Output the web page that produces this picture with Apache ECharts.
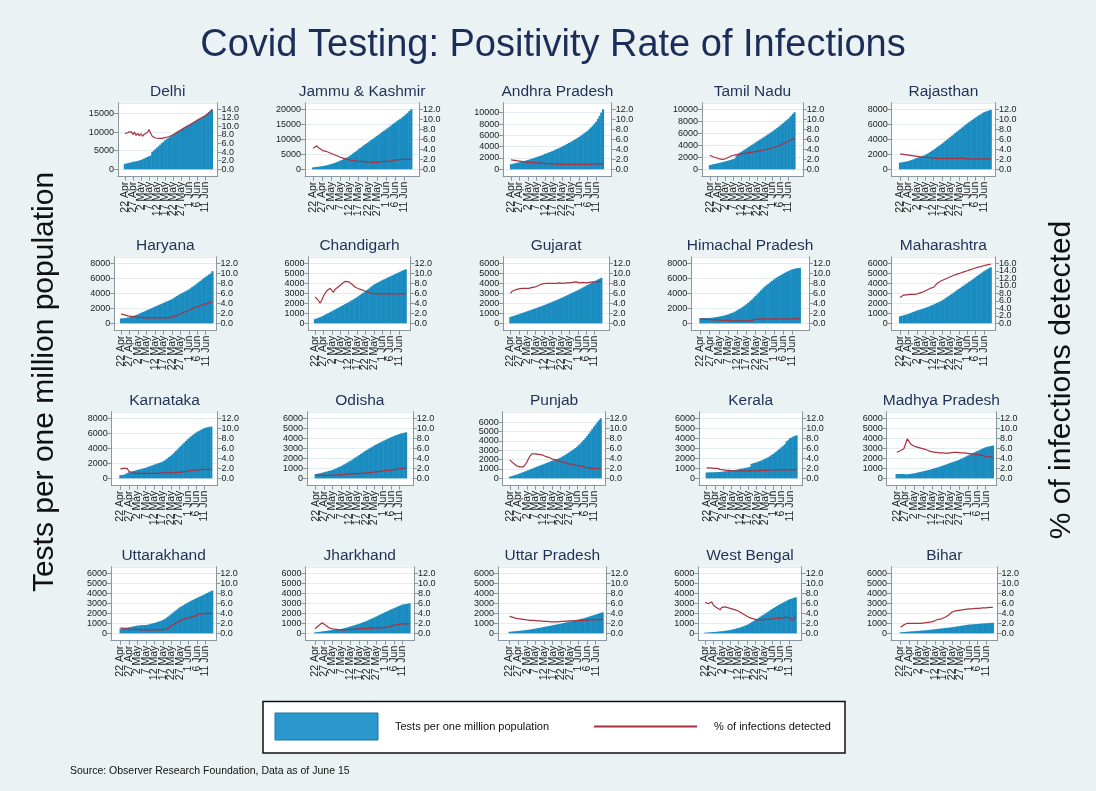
<!DOCTYPE html>
<html><head><meta charset="utf-8">
<script src="https://cdn.jsdelivr.net/npm/echarts@6/dist/echarts.min.js"></script>
<style>html,body{margin:0;padding:0;background:#eaf2f3;}#chart{width:1096px;height:791px;}</style>
</head><body><div id="chart"></div>
<script>
// ---------- categories ----------
const dates = ['22 Apr','23 Apr','24 Apr','25 Apr','26 Apr','27 Apr','28 Apr','29 Apr','30 Apr',
 '1 May','2 May','3 May','4 May','5 May','6 May','7 May','8 May','9 May','10 May','11 May','12 May','13 May','14 May','15 May','16 May',
 '17 May','18 May','19 May','20 May','21 May','22 May','23 May','24 May','25 May','26 May','27 May','28 May','29 May','30 May','31 May',
 '1 Jun','2 Jun','3 Jun','4 Jun','5 Jun','6 Jun','7 Jun','8 Jun','9 Jun','10 Jun','11 Jun','12 Jun','13 Jun','14 Jun','15 Jun'];
const xTickDays = [0,5,10,15,20,25,30,35,40,45,50];
const states = ['Delhi','Jammu & Kashmir','Andhra Pradesh','Tamil Nadu','Rajasthan',
 'Haryana','Chandigarh','Gujarat','Himachal Pradesh','Maharashtra',
 'Karnataka','Odisha','Punjab','Kerala','Madhya Pradesh',
 'Uttarakhand','Jharkhand','Uttar Pradesh','West Bengal','Bihar'];

// ---------- tick labels ----------
const leftTicks15k = [0,5000,10000,15000];
const leftTicks20k = [0,5000,10000,15000,20000];
const leftTicks10k = [0,2000,4000,6000,8000,10000];
const leftTicks8k = [0,2000,4000,6000,8000];
const leftTicks6k = [0,1000,2000,3000,4000,5000,6000];
const rightTicks12 = [0,2,4,6,8,10,12];
const rightTicks14 = [0,2,4,6,8,10,12,14];
const rightTicks16 = [0,2,4,6,8,10,12,14,16];

// ---------- series: tests per one million population / % of infections detected ----------
const delhiTests = [1450,1550,1650,1750,1850, 2000,2050,2150,2250,2350, 2500,2700,2900,3100,3300, 3500,3700,4700,5000,5400, 5800,6200,6600,7000,7400, 7800,8100,8400,8700,9000, 9300,9600,9900,10200,10400, 10700,11000,11300,11500,11800, 12000,12300,12500,12800,13000, 13300,13500,13800,14000,14300, 14600,14900,15300,15700,16100];
const delhiPos = [8.3,8.0,8.6,8.2,8.8, 8.1,8.7,7.9,8.4,7.8, 8.3,7.7,8.2,8.0,8.6, 9.3,8.4,7.7,7.4,7.3, 7.2,7.2,7.3,7.2,7.3, 7.4,7.5,7.6,7.8,7.9, 8.1,8.3,8.5,8.8,9.0, 9.2,9.5,9.7,9.9,10.1, 10.3,10.5,10.8,11.0,11.2, 11.5,11.7,11.9,12.2,12.3, 12.5,12.8,13.1,13.5,13.9];

const jkTests = [650,700,780,860,950, 1050,1150,1280,1420,1600, 1780,1950,2150,2400,2650, 2900,3150,3450,3750,4050, 4400,4850,5300,5750,6200, 6700,7150,7600,8050,8500, 8900,9350,9800,10200,10650, 11100,11550,12000,12450,12900, 13300,13750,14200,14700,15150, 15600,16050,16500,16900,17350, 17800,18350,18900,19500,20100];
const jkPos = [4.2,4.5,4.7,4.3,4.1, 3.8,3.7,3.6,3.4,3.3, 3.1,3.0,2.8,2.7,2.5, 2.4,2.3,2.2,2.1,2.0, 1.9,1.8,1.8,1.7,1.7, 1.6,1.6,1.6,1.5,1.5, 1.5,1.5,1.5,1.4,1.4, 1.4,1.5,1.5,1.5,1.6, 1.6,1.6,1.7,1.7,1.8, 1.9,1.9,1.9,2.0,2.0, 2.0,2.0,2.0,2.0,2.0];

const apTests = [900,960,1030,1100,1180, 1250,1320,1400,1480,1560, 1650,1740,1840,1940,2040, 2150,2250,2350,2470,2580, 2700,2820,2940,3060,3180, 3300,3440,3580,3720,3860, 4000,4160,4320,4480,4640, 4800,4980,5160,5340,5520, 5700,5920,6140,6360,6580, 6800,7100,7400,7700,8050, 8400,8900,9400,10000,10600];
const apPos = [1.9,1.8,1.8,1.7,1.7, 1.6,1.6,1.5,1.5,1.5, 1.4,1.4,1.4,1.3,1.3, 1.3,1.3,1.2,1.2,1.2, 1.2,1.2,1.1,1.1,1.1, 1.1,1.1,1.1,1.0,1.0, 1.0,1.0,1.0,1.0,1.0, 1.0,1.0,1.0,1.0,1.0, 1.0,1.0,1.0,1.0,1.0, 1.0,1.0,1.0,1.1,1.1, 1.1,1.1,1.1,1.1,1.1];

const tnTests = [700,760,820,880,940, 1000,1060,1120,1180,1240, 1300,1380,1460,1540,1620, 1700,1800,2300,2550,2750, 2900,3070,3240,3410,3580, 3750,3920,4090,4260,4430, 4600,4770,4940,5110,5280, 5450,5620,5790,5960,6130, 6300,6500,6700,6900,7100, 7300,7520,7740,7960,8180, 8400,8680,8960,9240,9520];
const tnPos = [2.8,2.6,2.5,2.4,2.3, 2.2,2.1,2.0,2.0,2.0, 2.1,2.2,2.4,2.5,2.7, 2.8,2.9,3.0,3.0,3.1, 3.1,3.1,3.2,3.2,3.3, 3.3,3.4,3.4,3.5,3.5, 3.6,3.6,3.7,3.8,3.8, 3.9,4.0,4.0,4.1,4.2, 4.3,4.4,4.5,4.6,4.7, 4.9,5.0,5.1,5.3,5.4, 5.6,5.7,5.9,6.0,6.2];

const rjTests = [880,920,960,1000,1050, 1100,1170,1250,1330,1410, 1500,1580,1660,1740,1820, 1900,2030,2160,2300,2450, 2600,2760,2920,3080,3240, 3400,3580,3760,3940,4120, 4300,4480,4660,4840,5020, 5200,5380,5560,5740,5920, 6100,6260,6420,6580,6740, 6900,7040,7180,7320,7460, 7600,7680,7760,7840,7920];
const rjPos = [3.1,3.0,3.0,2.9,2.9, 2.8,2.8,2.7,2.7,2.6, 2.6,2.5,2.5,2.5,2.4, 2.4,2.4,2.3,2.3,2.3, 2.3,2.3,2.2,2.2,2.2, 2.2,2.2,2.2,2.2,2.2, 2.2,2.2,2.2,2.2,2.2, 2.2,2.2,2.2,2.2,2.2, 2.1,2.1,2.1,2.1,2.1, 2.1,2.1,2.1,2.1,2.1, 2.1,2.1,2.1,2.1,2.1];

const hrTests = [640,660,690,720,760, 800,870,950,1030,1110, 1200,1300,1400,1500,1600, 1700,1800,1900,2000,2100, 2200,2300,2400,2500,2600, 2700,2800,2900,3000,3100, 3200,3340,3480,3620,3760, 3900,4020,4140,4260,4380, 4500,4660,4820,4980,5140, 5300,5480,5660,5840,6020, 6200,6350,6500,6650,6950];
const hrPos = [1.9,1.8,1.7,1.6,1.5, 1.4,1.4,1.3,1.3,1.2, 1.2,1.2,1.2,1.1,1.1, 1.1,1.1,1.1,1.1,1.1, 1.1,1.1,1.1,1.1,1.1, 1.1,1.1,1.1,1.1,1.2, 1.3,1.4,1.5,1.6,1.7, 1.8,2.0,2.1,2.3,2.4, 2.6,2.7,2.9,3.0,3.2, 3.3,3.4,3.5,3.7,3.8, 3.9,4.0,4.1,4.2,4.3];

const chTests = [420,480,540,600,680, 750,840,930,1020,1110, 1200,1290,1380,1470,1560, 1650,1740,1830,1920,2010, 2100,2200,2300,2400,2500, 2600,2720,2840,2960,3080, 3200,3330,3460,3590,3720, 3850,3940,4030,4120,4210, 4300,4380,4460,4540,4620, 4700,4780,4860,4940,5020, 5100,5180,5260,5330,5400];
const chPos = [5.3,5.1,4.6,4.0,4.6, 5.4,6.0,6.5,6.8,7.0, 6.6,6.2,6.8,7.1,7.3, 7.6,7.9,8.2,8.4,8.4, 8.3,8.0,7.8,7.5,7.2, 7.0,6.9,6.8,6.7,6.6, 6.4,6.3,6.2,6.1,6.0, 6.0,5.9,5.9,5.9,5.9, 5.9,5.9,5.9,5.9,5.9, 5.9,5.9,5.9,5.9,5.9, 5.9,5.9,5.9,5.9,5.9];

const gjTests = [630,680,740,790,850, 900,960,1020,1080,1140, 1200,1260,1320,1380,1440, 1500,1560,1620,1680,1740, 1800,1870,1940,2010,2080, 2150,2220,2290,2360,2430, 2500,2580,2660,2740,2820, 2900,2980,3060,3140,3220, 3300,3390,3480,3570,3660, 3750,3840,3930,4020,4110, 4200,4290,4380,4460,4550];
const gjPos = [6.0,6.4,6.3,6.7,6.6, 6.9,6.8,7.0,6.9,7.0, 7.1,7.0,7.1,7.2,7.2, 7.3,7.4,7.6,7.8,7.9, 8.0,8.0,8.1,8.0,7.9, 8.0,8.1,8.0,8.0,8.1, 8.0,8.0,8.1,8.1,8.2, 8.1,8.1,8.2,8.2,8.3, 8.2,8.1,8.2,8.2,8.1, 8.1,8.2,8.2,8.2,8.3, 8.2,8.3,8.3,8.4,8.4];

const hpTests = [700,700,700,710,710, 720,740,770,800,840, 880,930,980,1040,1110, 1180,1270,1360,1460,1580, 1720,1860,2010,2170,2350, 2530,2730,2940,3160,3400, 3640,3890,4140,4390,4640, 4880,5080,5280,5470,5660, 5840,6000,6160,6310,6460, 6600,6730,6860,6980,7090, 7200,7260,7310,7360,7400];
const hpPos = [0.9,0.9,0.8,0.8,0.8, 0.8,0.7,0.7,0.7,0.7, 0.7,0.6,0.6,0.6,0.6, 0.6,0.6,0.5,0.5,0.5, 0.5,0.5,0.5,0.5,0.5, 0.5,0.5,0.5,0.6,0.8, 0.8,0.8,0.9,0.9,0.9, 0.9,0.9,0.9,0.9,0.9, 0.9,0.9,0.9,0.9,0.9, 0.9,0.9,0.9,0.9,0.9, 0.9,0.9,0.9,1.0,1.0];

const mhTests = [700,740,790,840,880, 930,1000,1070,1140,1200, 1270,1320,1370,1420,1480, 1530,1600,1660,1730,1800, 1870,1950,2030,2110,2190, 2270,2380,2490,2600,2720, 2830,2950,3070,3190,3310, 3430,3540,3660,3770,3890, 4000,4120,4240,4360,4480, 4600,4720,4840,4960,5080, 5200,5300,5400,5500,5600];
const mhPos = [6.9,7.2,7.5,7.7,7.6, 7.6,7.7,7.6,7.7,7.7, 7.8,8.0,8.1,8.3,8.4, 8.5,8.9,9.2,9.3,9.4, 9.6,10.1,10.6,11.0,11.2, 11.4,11.6,11.8,12.0,12.2, 12.4,12.6,12.8,13.0,13.1, 13.3,13.4,13.6,13.7,13.9, 14.0,14.2,14.3,14.5,14.6, 14.8,14.9,15.0,15.1,15.3, 15.4,15.5,15.6,15.7,15.8];

const kaTests = [420,440,460,560,680, 800,860,920,980,1040, 1100,1160,1220,1280,1340, 1400,1480,1560,1640,1720, 1800,1880,1960,2040,2120, 2200,2340,2500,2660,2830, 3000,3200,3420,3640,3870, 4100,4320,4540,4760,4980, 5200,5400,5580,5760,5930, 6100,6230,6350,6470,6590, 6700,6760,6810,6860,6900];
const kaPos = [1.9,1.9,2.0,2.1,2.0, 1.4,1.2,1.1,1.1,1.0, 1.0,1.0,1.0,1.0,1.0, 1.0,1.0,1.0,1.0,1.0, 1.0,1.0,1.0,1.0,1.1, 1.1,1.1,1.1,1.1,1.1, 1.1,1.1,1.2,1.2,1.2, 1.2,1.3,1.3,1.4,1.4, 1.5,1.5,1.6,1.6,1.7, 1.7,1.7,1.7,1.8,1.8, 1.8,1.8,1.8,1.8,1.8];

const odTests = [420,450,480,520,560, 600,640,690,740,780, 830,900,970,1050,1120, 1200,1290,1380,1480,1570, 1670,1770,1880,1990,2090, 2200,2310,2430,2540,2660, 2770,2870,2970,3070,3170, 3270,3360,3440,3530,3610, 3700,3780,3860,3940,4020, 4100,4170,4230,4300,4360, 4430,4480,4520,4560,4600];
const odPos = [0.6,0.6,0.6,0.6,0.6, 0.6,0.6,0.6,0.6,0.6, 0.6,0.6,0.7,0.7,0.7, 0.7,0.7,0.8,0.8,0.8, 0.9,0.9,0.9,0.9,0.9, 0.9,1.0,1.0,1.0,1.0, 1.1,1.1,1.1,1.2,1.2, 1.2,1.3,1.3,1.4,1.4, 1.5,1.5,1.6,1.6,1.6, 1.7,1.7,1.8,1.8,1.8, 1.9,1.9,2.0,2.0,2.1];

const pbTests = [180,230,280,340,390, 450,520,590,660,730, 800,870,940,1010,1090, 1160,1230,1300,1370,1430, 1500,1570,1640,1720,1790, 1860,1930,2000,2060,2130, 2200,2300,2400,2510,2620, 2740,2860,2980,3100,3230, 3370,3540,3720,3900,4090, 4300,4520,4750,5000,5250, 5500,5730,5960,6180,6400];
const pbPos = [3.7,3.4,3.0,2.7,2.5, 2.4,2.3,2.2,2.3,2.6, 3.2,3.9,4.5,4.9,5.0, 4.9,4.8,4.8,4.7,4.7, 4.5,4.4,4.3,4.2,4.1, 3.9,3.8,3.7,3.6,3.5, 3.3,3.3,3.2,3.1,3.0, 2.9,2.9,2.8,2.7,2.6, 2.5,2.5,2.4,2.4,2.3, 2.2,2.2,2.1,2.1,2.0, 2.0,2.0,1.9,1.9,1.9];

const klTests = [580,585,590,595,600, 605,615,625,640,655, 670,690,710,730,750, 770,800,830,860,895, 930,960,990,1030,1065, 1100,1150,1450,1500,1550, 1600,1660,1720,1790,1860, 1930,2020,2110,2200,2320, 2430,2560,2690,2820,2950, 3100,3250,3400,3700,3800, 4000,4080,4160,4240,4300];
const klPos = [2.1,2.1,2.1,2.0,2.0, 2.0,2.0,1.9,1.8,1.8, 1.7,1.7,1.6,1.6,1.6, 1.5,1.5,1.5,1.5,1.5, 1.5,1.5,1.5,1.5,1.5, 1.5,1.5,1.5,1.5,1.5, 1.5,1.5,1.6,1.6,1.6, 1.6,1.6,1.6,1.7,1.7, 1.7,1.7,1.7,1.7,1.7, 1.7,1.7,1.7,1.7,1.7, 1.7,1.7,1.7,1.7,1.7];

const mpTests = [420,420,430,430,420, 390,400,420,440,470, 500,540,580,620,660, 700,740,790,830,880, 930,980,1040,1090,1150, 1200,1270,1330,1400,1460, 1530,1590,1650,1710,1770, 1830,1920,2000,2090,2180, 2270,2360,2440,2530,2610, 2700,2780,2860,2940,3020, 3100,3150,3190,3230,3270];
const mpPos = [5.2,5.4,5.5,5.7,5.9, 6.2,7.9,7.6,6.8,6.5, 6.4,6.3,6.2,6.1,6.0, 5.9,5.8,5.6,5.5,5.4, 5.3,5.3,5.2,5.2,5.1, 5.1,5.1,5.1,5.0,5.1, 5.1,5.1,5.2,5.2,5.2, 5.2,5.1,5.1,5.1,5.0, 5.0,5.0,4.9,4.9,4.8, 4.7,4.7,4.6,4.6,4.5, 4.4,4.4,4.3,4.3,4.2];

const ukTests = [480,500,520,550,570, 600,630,670,700,740, 770,780,790,810,820, 830,860,900,950,990, 1030,1080,1140,1200,1260, 1330,1430,1540,1660,1790, 1930,2070,2200,2340,2470, 2600,2700,2800,2900,3000, 3100,3190,3280,3360,3450, 3530,3610,3690,3770,3850, 3930,4020,4100,4190,4270];
const ukPos = [1.1,1.0,1.0,0.9,0.9, 0.9,0.8,0.8,0.8,0.8, 0.8,0.8,0.7,0.7,0.7, 0.7,0.7,0.7,0.7,0.7, 0.7,0.7,0.7,0.7,0.7, 0.7,0.8,0.9,1.0,1.2, 1.5,1.7,1.9,2.1,2.3, 2.5,2.7,2.8,2.9,3.0, 3.1,3.2,3.3,3.4,3.5, 3.7,3.8,3.8,3.9,3.9, 4.0,4.0,4.0,4.0,4.0];

const jhTests = [90,110,130,160,180, 200,230,260,280,300, 330,350,370,390,410, 430,480,520,570,620, 670,720,770,830,880, 930,1000,1070,1130,1200, 1270,1350,1430,1510,1590, 1670,1760,1840,1930,2010, 2100,2180,2260,2340,2420, 2500,2570,2650,2720,2800, 2870,2900,2930,2960,3000];
const jhPos = [0.9,1.2,1.5,1.8,2.1, 2.2,1.6,1.3,1.1,1.0, 0.9,0.8,0.8,0.7,0.7, 0.7,0.7,0.7,0.7,0.8, 0.8,0.8,0.8,0.9,0.9, 0.9,0.9,0.9,1.0,1.0, 1.0,1.0,1.0,1.0,1.1, 1.1,1.1,1.1,1.1,1.2, 1.2,1.2,1.3,1.4,1.5, 1.6,1.7,1.7,1.8,1.8, 1.9,1.9,1.9,1.9,1.9];

const upTests = [150,165,180,200,215, 230,250,270,290,310, 330,355,380,410,440, 470,500,530,565,600, 630,665,700,730,765, 800,835,870,900,935, 970,1010,1050,1090,1130, 1170,1210,1250,1290,1330, 1370,1410,1460,1500,1550, 1600,1650,1710,1760,1820, 1870,1930,1990,2040,2100];
const upPos = [3.4,3.3,3.2,3.1,3.0, 2.9,2.9,2.8,2.8,2.7, 2.7,2.7,2.6,2.6,2.6, 2.5,2.5,2.5,2.5,2.4, 2.4,2.4,2.4,2.4,2.3, 2.3,2.3,2.3,2.3,2.4, 2.4,2.4,2.4,2.4,2.5, 2.5,2.5,2.5,2.5,2.6, 2.6,2.6,2.6,2.6,2.6, 2.7,2.7,2.7,2.7,2.7, 2.7,2.8,2.8,2.8,2.8];

const wbTests = [60,70,85,100,115, 130,140,155,170,185, 200,220,250,270,300, 330,360,400,440,490, 530,580,640,700,760, 830,920,1020,1120,1230, 1330,1440,1550,1660,1770, 1870,1980,2090,2200,2320, 2430,2530,2630,2730,2830, 2930,3020,3110,3200,3280, 3370,3430,3490,3550,3600];
const wbPos = [6.2,6.0,5.9,6.1,6.3, 5.6,5.4,5.1,4.9,4.7, 5.2,5.5,5.3,5.2,5.1, 5.0,4.9,4.8,4.7,4.6, 4.4,4.2,4.0,3.8,3.6, 3.3,3.2,3.1,3.0,2.9, 2.8,2.8,2.7,2.7,2.7, 2.7,2.8,2.8,2.8,2.9, 2.9,2.9,3.0,3.0,3.0, 3.1,3.1,3.1,3.2,3.2, 3.2,3.2,2.6,3.0,3.3];

const brTests = [100,110,125,140,155, 170,180,190,205,220, 230,245,260,275,290, 300,320,340,360,380, 400,420,440,460,480, 500,520,540,560,580, 600,625,650,680,705, 730,760,790,815,845, 870,880,895,905,915, 930,945,960,975,985, 1000,1010,1025,1040,1055];
const brPos = [1.2,1.5,1.7,1.9,2.0, 2.0,2.0,2.0,2.0,2.0, 2.0,2.0,2.0,2.1,2.1, 2.2,2.2,2.3,2.3,2.4, 2.5,2.6,2.8,2.9,2.9, 3.0,3.2,3.4,3.6,3.9, 4.2,4.4,4.5,4.6,4.6, 4.7,4.7,4.7,4.8,4.8, 4.9,4.9,4.9,4.9,5.0, 5.0,5.0,5.0,5.1,5.1, 5.1,5.1,5.2,5.2,5.2];

const testsList = [delhiTests,jkTests,apTests,tnTests,rjTests, hrTests,chTests,gjTests,hpTests,mhTests, kaTests,odTests,pbTests,klTests,mpTests, ukTests,jhTests,upTests,wbTests,brTests];
const posList = [delhiPos,jkPos,apPos,tnPos,rjPos, hrPos,chPos,gjPos,hpPos,mhPos, kaPos,odPos,pbPos,klPos,mpPos, ukPos,jhPos,upPos,wbPos,brPos];
const leftTickList = [leftTicks15k,leftTicks20k,leftTicks10k,leftTicks10k,leftTicks8k,
 leftTicks8k,leftTicks6k,leftTicks6k,leftTicks8k,leftTicks6k,
 leftTicks8k,leftTicks6k,leftTicks6k,leftTicks6k,leftTicks6k,
 leftTicks6k,leftTicks6k,leftTicks6k,leftTicks6k,leftTicks6k];
const rightTickList = [rightTicks14,rightTicks12,rightTicks12,rightTicks12,rightTicks12,
 rightTicks12,rightTicks12,rightTicks12,rightTicks12,rightTicks16,
 rightTicks12,rightTicks12,rightTicks12,rightTicks12,rightTicks12,
 rightTicks12,rightTicks12,rightTicks12,rightTicks12,rightTicks12];

// ---------- layout (pixels): plot box left/right, x of first tick (22 Apr) and of 11 Jun tick ----------
const ROW_TOP = [102.7, 256.7, 411.7, 566.7];
const BOX_H = 74;
const panelX = [
 [117.9,217.5,124.8,205.6],[305,419,313.2,404],[503.2,611.7,511,596.2],[702,802.8,709.8,788.3],[891.7,995,900,984],
 [114.2,216.5,121,205.7],[308.5,410.5,315,399],[503.2,609,510.4,594.6],[691.2,809,700.5,792.4],[891.7,995,900,984],
 [111.7,217.5,120.4,204.6],[306.9,412.8,315.7,399.4],[502.7,605.5,510,594],[699,802.3,706.7,789.9],[886.7,996,896.7,985.7],
 [111,216.2,120.6,205.4],[305.5,414,315.1,402.5],[498,606.6,509.6,595.7],[698.3,801.7,705,789],[891,997.5,900.6,986]
];

const FONT = '"Liberation Sans", Arial, sans-serif';
const BAR_COLOR = '#1a8cc0';
const LINE_COLOR = '#a8323e';
const AXIS_COLOR = '#8a989e';
const TITLE_COLOR = '#1f3157';
const NAME_BAR = 'Tests per one million population';
const NAME_LINE = '% of infections detected';
const TOP_FR = 0.11, BOT_FR = 0.1233;
const EPS = 1e-3;

// The library drops the label/tick next to a forced min/max label when they overlap;
// padding each tick list with blank end entries (hidden by showMin/MaxLabel:false) keeps all real ticks.
function padded(vals, lo, hi) {
  const span = hi - lo;
  return [lo + span * EPS].concat(vals, [hi - span * EPS]);
}

const grids = [], xAxes = [], yAxes = [], series = [], graphics = [];
states.forEach((st, i) => {
  const row = Math.floor(i / 5);
  const [L, R, t0, t50] = panelX[i];
  const W = R - L;
  const ppd = (t50 - t0) / 50;
  const xmin = -(t0 - L) / ppd;
  const xmax = 50 + (R - t50) / ppd;
  const tests = testsList[i], pos = posList[i];
  const lt = leftTickList[i], rt = rightTickList[i];
  const TL = Math.max(lt[lt.length - 1], Math.max.apply(null, tests));
  const TR = Math.max(rt[rt.length - 1], Math.max.apply(null, pos));
  const lMin = -BOT_FR * TL, lMax = (1 + TOP_FR) * TL;
  const rMin = -BOT_FR * TR, rMax = (1 + TOP_FR) * TR;
  const xVals = padded(xTickDays, xmin, xmax);
  const lVals = padded(lt, lMin, lMax);
  const rVals = padded(rt, rMin, rMax);
  grids.push({left: L, top: ROW_TOP[row], width: W, height: BOX_H, show: true,
    backgroundColor: '#ffffff', borderWidth: 0, containLabel: false});
  xAxes.push({type: 'value', gridIndex: i, min: xmin, max: xmax,
    axisLine: {show: true, onZero: false, lineStyle: {color: AXIS_COLOR, width: 1}},
    axisTick: {show: true, length: 4, customValues: xVals, lineStyle: {color: AXIS_COLOR}},
    axisLabel: {show: true, customValues: xVals, rotate: 90, fontSize: 10.5, margin: 5,
      color: '#222', fontFamily: FONT, hideOverlap: false, showMinLabel: false, showMaxLabel: false,
      formatter: v => (xTickDays.indexOf(v) >= 0 ? dates[v] : '')},
    splitLine: {show: false}});
  yAxes.push({type: 'value', gridIndex: i, position: 'left', min: lMin, max: lMax,
    axisLine: {show: true, onZero: false, lineStyle: {color: AXIS_COLOR, width: 1}},
    axisTick: {show: true, length: 4, customValues: lVals, lineStyle: {color: AXIS_COLOR}},
    axisLabel: {show: true, customValues: lVals, fontSize: 9, margin: 4, color: '#222', fontFamily: FONT,
      hideOverlap: false, showMinLabel: false, showMaxLabel: false,
      formatter: v => (lt.indexOf(v) >= 0 ? String(v) : '')},
    splitLine: {show: true, lineStyle: {color: '#e3ecef', width: 1}}});
  yAxes.push({type: 'value', gridIndex: i, position: 'right', min: rMin, max: rMax,
    axisLine: {show: true, onZero: false, lineStyle: {color: AXIS_COLOR, width: 1}},
    axisTick: {show: true, length: 4, customValues: rVals, lineStyle: {color: AXIS_COLOR}},
    axisLabel: {show: true, customValues: rVals, fontSize: 9, margin: 4, color: '#222', fontFamily: FONT,
      hideOverlap: false, showMinLabel: false, showMaxLabel: false,
      formatter: v => (rt.indexOf(v) >= 0 ? v.toFixed(1) : '')},
    splitLine: {show: false}});
  series.push({type: 'bar', name: NAME_BAR, xAxisIndex: i, yAxisIndex: 2 * i,
    data: tests.map((v, k) => [k, v]), barWidth: ppd * 1.3, barGap: '-100%',
    itemStyle: {color: BAR_COLOR}, emphasis: {disabled: true}, animation: false, z: 2});
  series.push({type: 'line', name: NAME_LINE, xAxisIndex: i, yAxisIndex: 2 * i + 1,
    data: pos.map((v, k) => [k, v]), symbol: 'none', showSymbol: false,
    lineStyle: {color: LINE_COLOR, width: 1.2}, itemStyle: {color: LINE_COLOR},
    emphasis: {disabled: true}, animation: false, z: 3});
  graphics.push({type: 'text', x: L + W / 2, y: ROW_TOP[row] - 11, z: 10,
    style: {text: st, fill: TITLE_COLOR, font: '15.5px ' + FONT, align: 'center', verticalAlign: 'middle'}});
});

// legend box, titles, source
graphics.push({type: 'rect', shape: {x: 263, y: 701.5, width: 582, height: 51.5}, z: 0,
  style: {fill: '#ffffff', stroke: '#111111', lineWidth: 1.5}});
graphics.push({type: 'text', x: 553, y: 46, z: 10,
  style: {text: 'Covid Testing: Positivity Rate of Infections', fill: '#1c2d58', font: '38px ' + FONT,
    align: 'center', verticalAlign: 'middle'}});
graphics.push({type: 'text', x: 45, y: 382, rotation: Math.PI / 2, z: 10,
  style: {text: 'Tests per one million population', fill: '#111', font: '30px ' + FONT,
    align: 'center', verticalAlign: 'middle'}});
graphics.push({type: 'text', x: 1062, y: 380, rotation: Math.PI / 2, z: 10,
  style: {text: '% of infections detected', fill: '#111', font: '30px ' + FONT,
    align: 'center', verticalAlign: 'middle'}});
graphics.push({type: 'text', x: 70, y: 771, z: 10,
  style: {text: 'Source: Observer Research Foundation, Data as of June 15', fill: '#111',
    font: '10.5px ' + FONT, align: 'left', verticalAlign: 'middle'}});

const chart = echarts.init(document.getElementById('chart'), null, {renderer: 'canvas'});
chart.setOption({
  backgroundColor: '#eaf2f3',
  animation: false,
  tooltip: {show: false},
  grid: grids, xAxis: xAxes, yAxis: yAxes, series: series,
  legend: {show: true, left: 274.5, top: 712.5, orient: 'horizontal', padding: 0,
    itemWidth: 103, itemHeight: 27, itemGap: 44, selectedMode: false,
    textStyle: {fontSize: 11, color: '#111', fontFamily: FONT, padding: [0, 0, 0, 12]},
    data: [
      {name: NAME_BAR, icon: 'rect', itemStyle: {color: '#2a98cc', borderColor: '#1b74a8', borderWidth: 1}},
      {name: NAME_LINE, lineStyle: {color: LINE_COLOR, width: 2},
        itemStyle: {color: 'rgba(0,0,0,0)', borderWidth: 0, opacity: 0}}
    ]},
  graphic: graphics
});
</script></body></html>
